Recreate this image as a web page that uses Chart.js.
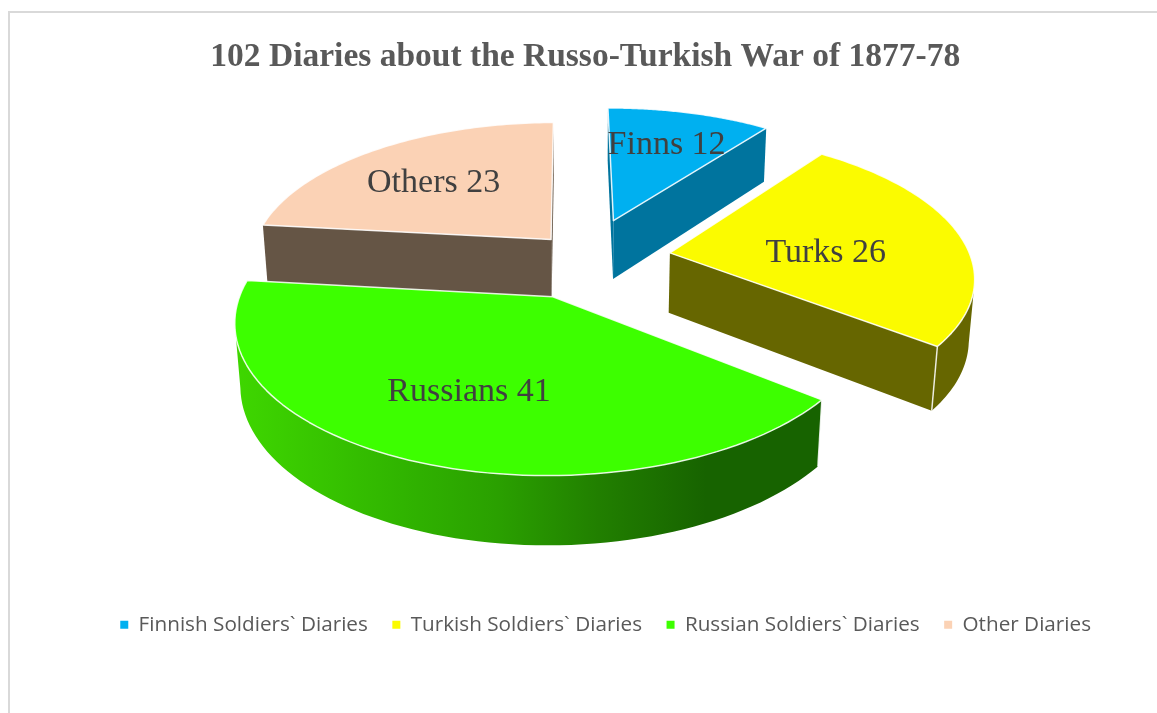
<!DOCTYPE html>
<html>
<head>
<meta charset="utf-8">
<title>102 Diaries</title>
<script src="https://cdn.jsdelivr.net/npm/chart.js@4"></script>
<style>
    html, body { margin: 0; padding: 0; background: #fff; overflow: hidden; }
    #frame { position: absolute; left: 8px; top: 11px; right: -2px; bottom: -2px; border: 2px solid #d9d9d9; }
    #pieChart { position: absolute; left: 0; top: 0; }
</style>
</head>
<body>
<div id="frame"></div>
<canvas id="pieChart" width="1157" height="713"></canvas>
<script>
const titleText = '102 Diaries about the Russo-Turkish War of 1877-78';
const categories = ['Finnish Soldiers` Diaries', 'Turkish Soldiers` Diaries', 'Russian Soldiers` Diaries', 'Other Diaries'];
const shortNames = ['Finns', 'Turks', 'Russians', 'Others'];
const values = [12, 26, 41, 23];
const topColors = ['#00b0f0', '#fbfb00', '#3dff00', '#fbd2b5'];
const wallColors = ['#00749e', '#666600', '#176300', '#655545'];

// view of the tilted pie: ground plane -> screen, with a little perspective
const view = { cx: 587, cy: 258, a: 301, b: 139.5, k: 0.148, depth: 61, m: 0.015 };

function project(u, v, h) {
    const p = 1 / (1 - view.k * v + view.m * h);
    return [view.cx + view.a * u * p, view.cy + (view.b * v + view.depth * h) * p];
}

// perspective also skews the angles a bit on the ground plane
function warp(t) {
    const th = t + Math.PI / 2;
    const deg = -5.2 + 4.7 * Math.cos(th) - Math.sin(th) - 3.15 * Math.sin(2 * th);
    return t + deg * Math.PI / 180;
}

function tracePoints(ctx, pts) {
    pts.forEach(function (pt, i) {
        if (i === 0) ctx.moveTo(pt[0], pt[1]);
        else ctx.lineTo(pt[0], pt[1]);
    });
}

function sliceGeometry(arc) {
    const R = arc.outerRadius;
    const start = warp(arc.startAngle);
    const end = warp(arc.endAngle);
    const mid = (start + end) / 2;
    const ox = Math.cos(mid) * arc.options.offset / R;
    const oy = Math.sin(mid) * arc.options.offset / R;
    const rim = [];
    for (let i = 0; i <= 80; i++) {
        const t = start + (end - start) * i / 80;
        rim.push([ox + Math.cos(t), oy + Math.sin(t)]);
    }
    return { ox: ox, oy: oy, mid: mid, rim: rim };
}

const pie3d = {
    id: 'pie3d',
    beforeDatasetsDraw(chart) {
        const ctx = chart.ctx;
        const arcs = chart.getDatasetMeta(0).data;
        const order = arcs.map(function (a, i) { return i; }).sort(function (p, q) {
            return sliceGeometry(arcs[p]).oy - sliceGeometry(arcs[q]).oy;
        });
        ctx.save();
        ctx.lineJoin = 'round';
        order.forEach(function (i) {
            const g = sliceGeometry(arcs[i]);
            const apexTop = project(g.ox, g.oy, 0);
            const apexBot = project(g.ox, g.oy, 1);
            const rimTop = g.rim.map(function (r) { return project(r[0], r[1], 0); });
            const rimBot = g.rim.map(function (r) { return project(r[0], r[1], 1); });
            const last = rimTop.length - 1;
            const midPt = rimTop[Math.floor(last / 2)];

            // cut faces that look toward the viewer
            [0, last].forEach(function (e) {
                const dx = rimTop[e][0] - apexTop[0];
                const dy = rimTop[e][1] - apexTop[1];
                const side = dx * (midPt[1] - apexTop[1]) - dy * (midPt[0] - apexTop[0]);
                if ((dx > 0 && side < 0) || (dx < 0 && side > 0)) {
                    ctx.beginPath();
                    tracePoints(ctx, [apexTop, rimTop[e], rimBot[e], apexBot]);
                    ctx.closePath();
                    ctx.fillStyle = wallColors[i];
                    ctx.fill();
                }
            });

            // outer wall, only where the rim runs right to left on screen
            const front = [];
            for (let s = 0; s <= last; s++) {
                const prev = rimTop[Math.max(s - 1, 0)];
                const next = rimTop[Math.min(s + 1, last)];
                if (next[0] < prev[0]) front.push(s);
            }
            if (front.length > 1) {
                const grad = ctx.createLinearGradient(230, 0, 825, 0);
                if (i === 2) {
                    grad.addColorStop(0, '#3fd800');
                    grad.addColorStop(0.29, '#30b400');
                    grad.addColorStop(0.45, '#2aa000');
                    grad.addColorStop(0.62, '#217f00');
                    grad.addColorStop(0.8, '#176300');
                    grad.addColorStop(1, '#176300');
                } else {
                    grad.addColorStop(0, wallColors[i]);
                    grad.addColorStop(1, wallColors[i]);
                }
                ctx.beginPath();
                tracePoints(ctx, front.map(function (s) { return rimTop[s]; })
                    .concat(front.slice().reverse().map(function (s) { return rimBot[s]; })));
                ctx.closePath();
                ctx.fillStyle = grad;
                ctx.fill();
            }

            // top face
            ctx.beginPath();
            tracePoints(ctx, [apexTop].concat(rimTop));
            ctx.closePath();
            ctx.fillStyle = arcs[i].options.backgroundColor;
            ctx.fill();
            ctx.strokeStyle = 'rgba(255,255,255,0.85)';
            ctx.lineWidth = 1.5;
            ctx.stroke();

            // edge lines on the walls
            [0, last].forEach(function (e) {
                if (front.indexOf(e) >= 0) {
                    ctx.beginPath();
                    tracePoints(ctx, [rimTop[e], rimBot[e]]);
                    ctx.stroke();
                }
            });
        });

        // value labels
        ctx.fillStyle = '#404040';
        ctx.font = '34px "Liberation Serif", serif';
        ctx.textAlign = 'center';
        ctx.textBaseline = 'middle';
        const labelSpot = [0.67, 0.52, 0.62, 0.62];
        const labelTurn = [0, 8, 0, -2];
        arcs.forEach(function (arc, i) {
            const g = sliceGeometry(arc);
            const r = labelSpot[i];
            const t = g.mid + labelTurn[i] * Math.PI / 180;
            const pos = project(g.ox + Math.cos(t) * r, g.oy + Math.sin(t) * r, 0);
            ctx.fillText(shortNames[i] + ' ' + values[i], pos[0], pos[1]);
        });
        ctx.restore();
        return false; // the slices are painted above, skip the flat ones
    }
};

new Chart(document.getElementById('pieChart').getContext('2d'), {
    type: 'pie',
    plugins: [pie3d],
    data: {
        labels: categories,
        datasets: [{
            data: values,
            backgroundColor: topColors,
            borderWidth: 0,
            offset: [63, 60, 62, 39]
        }]
    },
    options: {
        responsive: false,
        animation: false,
        rotation: 0,
        layout: { padding: { left: 55, right: 41.5, bottom: 68 } },
        plugins: {
            title: {
                display: true,
                text: titleText,
                color: '#595959',
                font: { family: '"Liberation Serif", serif', size: 33.5, weight: 'bold' },
                padding: { top: 37, bottom: 20 }
            },
            legend: {
                position: 'bottom',
                align: 'end',
                labels: {
                    usePointStyle: true,
                    pointStyle: 'rect',
                    boxWidth: 8,
                    boxHeight: 8,
                    padding: 24.5,
                    color: '#595959',
                    font: { family: '"Open Sans", sans-serif', size: 20.7 }
                }
            },
            tooltip: { enabled: false }
        }
    }
});
</script>
</body>
</html>
